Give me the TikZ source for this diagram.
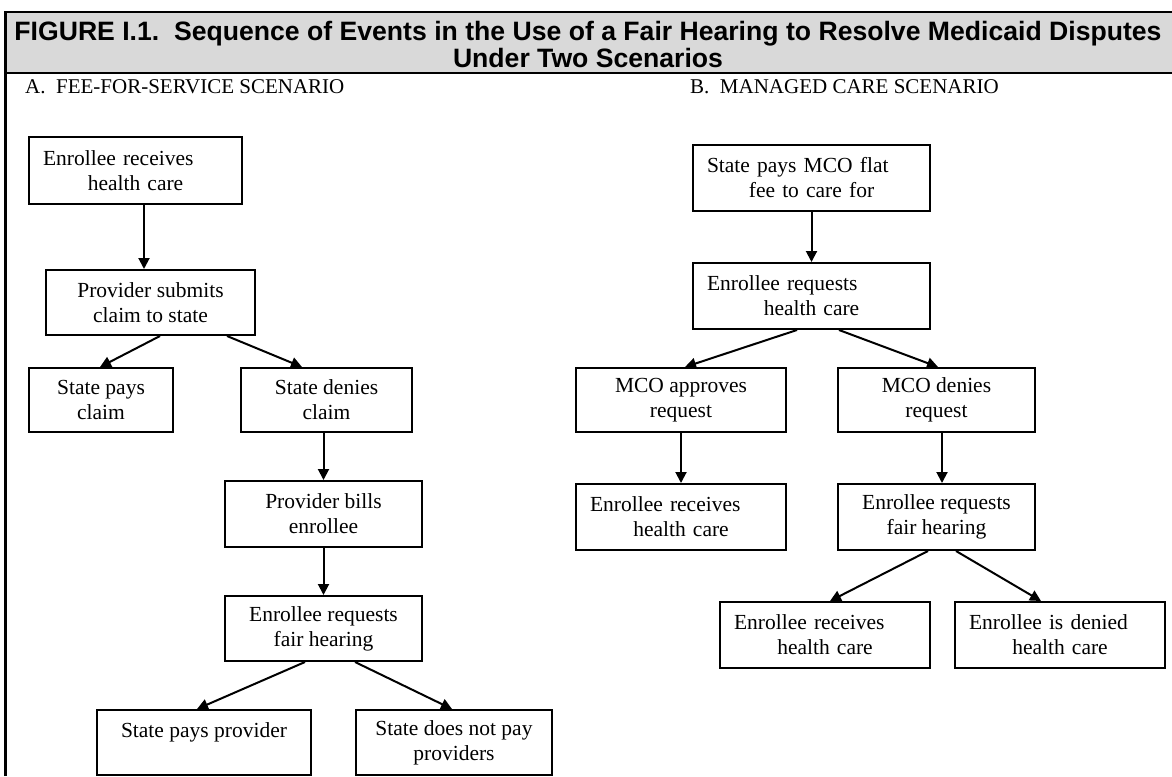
\documentclass[tikz,border=0pt]{standalone}
\usepackage{fontspec}
\setmainfont{Liberation Serif}
\newfontfamily\headfont{Liberation Sans}
\usetikzlibrary{arrows.meta,positioning}
\newcommand{\firstleft}[1]{\makebox[\hsize][l]{#1}}

\begin{document}
\begin{tikzpicture}[x=1pt, y=-1pt, >={Triangle[length=11pt,width=11pt]},
  box/.style={draw, line width=2pt, inner xsep=14pt, inner ysep=0pt, align=center, font=\fontsize{21.5}{25}\selectfont},
  link/.style={->, line width=2pt},
  head/.style={anchor=base west, inner sep=0pt, font=\fontsize{21}{24}\selectfont}]
\useasboundingbox (0,0) rectangle (1172,776);
% title bar and frame
\fill[black!15] (5.5,12) rectangle (1172,73);
\draw[line width=2.5pt] (5.5,776) -- (5.5,12) -- (1172,12);
\draw[line width=2.5pt] (5.5,73) -- (1172,73);
\node (title) [align=center, font=\headfont\bfseries\fontsize{26.6}{27}\selectfont] at (588,44) {FIGURE I.1.\ \ Sequence of Events in the Use of a Fair Hearing to Resolve Medicaid Disputes\\Under Two Scenarios};
\node (headA) [head] at (25,93) {A.\ \ FEE-FOR-SERVICE SCENARIO};
\node (headB) [head] at (690,93) {B.\ \ MANAGED CARE SCENARIO};
% fee-for-service
\node (a1) [box, text width=185pt, minimum height=67pt] at (135.5,170.5) {\firstleft{Enrollee receives}\\health care};
\node (a2) [box, minimum width=209pt, minimum height=65pt] at (150.5,302.5) {Provider submits\\claim to state};
\node (a3) [box, minimum width=144pt, minimum height=64pt] at (101,400) {State pays\\claim};
\node (a4) [box, minimum width=171pt, minimum height=64pt] at (326.5,400) {State denies\\claim};
\node (a5) [box, minimum width=197pt, minimum height=66pt] at (323.5,514) {Provider bills\\enrollee};
\node (a6) [box, minimum width=197pt, minimum height=65pt] at (323.5,628.5) {Enrollee requests\\fair hearing};
\node (a7) [box, minimum width=214pt, minimum height=65pt] at (204,742.5) {State pays provider\\\mbox{}};
\node (a8) [box, minimum width=196pt, minimum height=65pt] at (454,742.5) {State does not pay\\providers};
\draw[link] ([xshift=8.5pt]a1.south) -- ([xshift=-6.5pt]a2.north);
\draw[link] ([xshift=9.5pt]a2.south) -- ([xshift=-1pt]a3.north);
\draw[link] ([xshift=76.5pt]a2.south) -- ([xshift=-24.5pt]a4.north);
\draw[link] (a4.south -| a5.north) -- (a5.north);
\draw[link] (a5) -- (a6);
\draw[link] ([xshift=-18.5pt]a6.south) -- ([xshift=-7pt]a7.north);
\draw[link] ([xshift=31.5pt]a6.south) -- ([xshift=-2pt]a8.north);
% managed care
\node (b1) [box, text width=209pt, minimum height=66pt] at (811.5,178) {\firstleft{State pays MCO flat}\\fee to care for};
\node (b2) [box, text width=209pt, minimum height=66pt] at (811.5,296) {\firstleft{Enrollee requests}\\health care};
\node (b3) [box, minimum width=210pt, minimum height=64pt] at (681,400) {MCO approves\\request};
\node (b4) [box, minimum width=197pt, minimum height=64pt] at (936.5,400) {MCO denies\\request};
\node (b5) [box, text width=182pt, minimum height=66pt] at (681,517) {\firstleft{Enrollee receives}\\health care};
\node (b6) [box, minimum width=197pt, minimum height=66pt] at (936.5,517) {Enrollee requests\\fair hearing};
\node (b7) [box, text width=182pt, minimum height=66pt] at (825,635) {\firstleft{Enrollee receives}\\health care};
\node (b8) [box, text width=182pt, minimum height=66pt] at (1060,635) {\firstleft{Enrollee is denied}\\health care};
\draw[link] (b1) -- (b2);
\draw[link] ([xshift=-14.5pt]b2.south) -- ([xshift=4pt]b3.north);
\draw[link] ([xshift=27.5pt]b2.south) -- ([xshift=1.5pt]b4.north);
\draw[link] (b3) -- (b5);
\draw[link] ([xshift=5.5pt]b4.south) -- ([xshift=5.5pt]b6.north);
\draw[link] ([xshift=-8.5pt]b6.south) -- ([xshift=5pt]b7.north);
\draw[link] ([xshift=19.5pt]b6.south) -- ([xshift=-19pt]b8.north);
\end{tikzpicture}
\end{document}
